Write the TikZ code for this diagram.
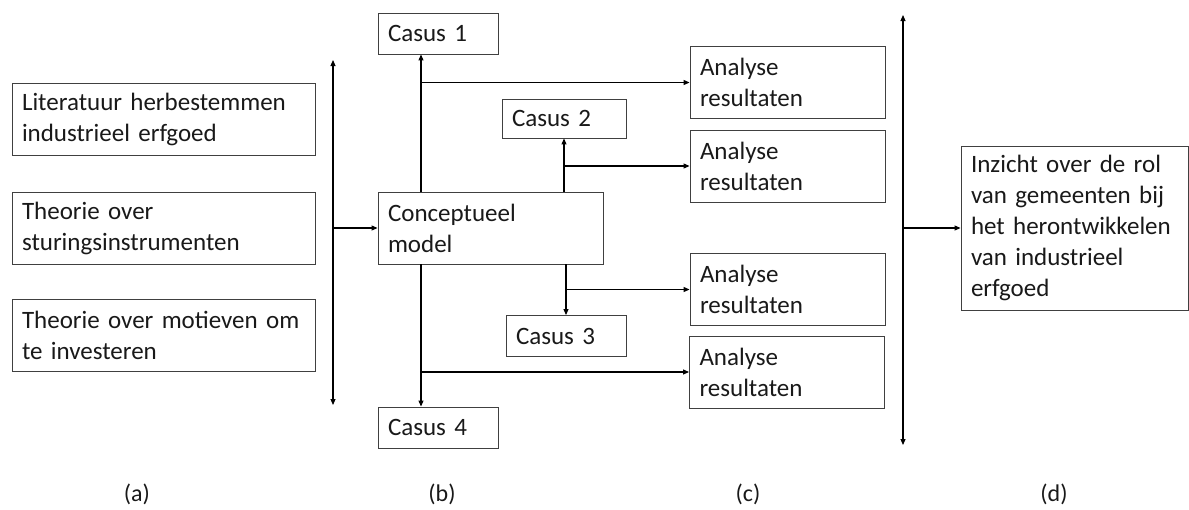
\documentclass[tikz,border=0pt]{standalone}
\usepackage{fontspec}
\setmainfont{Carlito}[WordSpace=0.85]
\usetikzlibrary{arrows.meta,positioning,calc}

\begin{document}
\begin{tikzpicture}[
  x=1pt, y=-1pt,
  box/.style={draw=black!75, line width=0.9pt, align=left, inner xsep=10pt,
              inner ysep=0pt, text=black!90, font=\fontsize{25}{31}\selectfont},
  srcbox/.style={box, text width=283pt, minimum height=72pt},
  casbox/.style={box, text width=100pt, minimum height=41pt},
  anabox/.style={box, text width=175pt, minimum height=72pt},
  tip/.tip={Triangle[length=6pt, width=5pt]},
  flow/.style={-tip, line width=1.1pt},
  bar/.style={tip-tip, line width=1.1pt},
  lbl/.style={font=\fontsize{24}{28}\selectfont, text=black!90, inner sep=0pt},
]
\useasboundingbox (0,0) rectangle (1189,509);

%% ---- sources (a) -----------------------------------------------------------
\node[srcbox] (lit)  at (163.5,119)   {Literatuur herbestemmen\\industrieel erfgoed};
\node[srcbox] (stur) at (163.5,228)   {Theorie over\\sturingsinstrumenten};
\node[srcbox] (mot)  at (163.5,335.5) {Theorie over motieven om\\te investeren};

%% ---- model and cases (b) --------------------------------------------------
\node[box, text width=205pt, minimum height=72pt] (model) at (490.5,228)
  {Conceptueel\\model};
\node[casbox] (cas1) at (438,33.5)  {Casus 1};
\node[casbox, text width=104pt, minimum height=39pt] (cas2) at (564,118.5) {Casus 2};
\node[casbox] (cas3) at (566,336)   {Casus 3};
\node[casbox] (cas4) at (438,427.5) {Casus 4};

%% ---- analyses (c) ---------------------------------------------------------
\node[anabox] (ana1) at (787.5,82.5) {Analyse\\resultaten};
\node[anabox] (ana2) at (787.5,166)  {Analyse\\resultaten};
\node[anabox] (ana3) at (787.5,289.5) {Analyse\\resultaten};
\node[anabox] (ana4) at (787,372)    {Analyse\\resultaten};

%% ---- insight (d) ----------------------------------------------------------
\node[box, text width=207pt, minimum height=164pt] (inz) at (1074.5,228)
  {Inzicht over de rol\\van gemeenten bij\\het herontwikkelen\\van industrieel\\erfgoed};

%% ---- bars and trunks ------------------------------------------------------
\coordinate (barLtop) at (333,60);
\coordinate (barLbot) at (333,405);
\coordinate (barRtop) at (903,15);
\coordinate (barRbot) at (903,445);
\coordinate (trunkA) at (421,228);
\coordinate (trunkB) at (564,228);
\coordinate (trunkC) at (566,228);

\draw[bar] (barLtop) -- (barLbot);
\draw[flow] (model.west -| barLtop) -- (model.west);
\draw[bar] (barRtop) -- (barRbot);
\draw[flow] (inz.west -| barRtop) -- (inz.west);

%% ---- model to the cases, cases to the analyses ----------------------------
\draw[flow] (model.north -| trunkA) -- (cas1.south -| trunkA);
\draw[flow] (ana1.west -| trunkA) -- (ana1.west);
\draw[flow] (model.north -| trunkB) -- (cas2.south -| trunkB);
\draw[flow] (ana2.west -| trunkB) -- (ana2.west);
\draw[flow] (model.south -| trunkC) -- (cas3.north -| trunkC);
\draw[flow] (ana3.west -| trunkC) -- (ana3.west);
\draw[flow] (model.south -| trunkA) -- (cas4.north -| trunkA);
\draw[flow] (ana4.west -| trunkA) -- (ana4.west);

%% ---- column labels --------------------------------------------------------
\node[lbl] (labA) at (137,494)  {(a)};
\node[lbl] (labB) at (442,494)  {(b)};
\node[lbl] (labC) at (748,494)  {(c)};
\node[lbl] (labD) at (1054,494) {(d)};

\end{tikzpicture}
\end{document}
